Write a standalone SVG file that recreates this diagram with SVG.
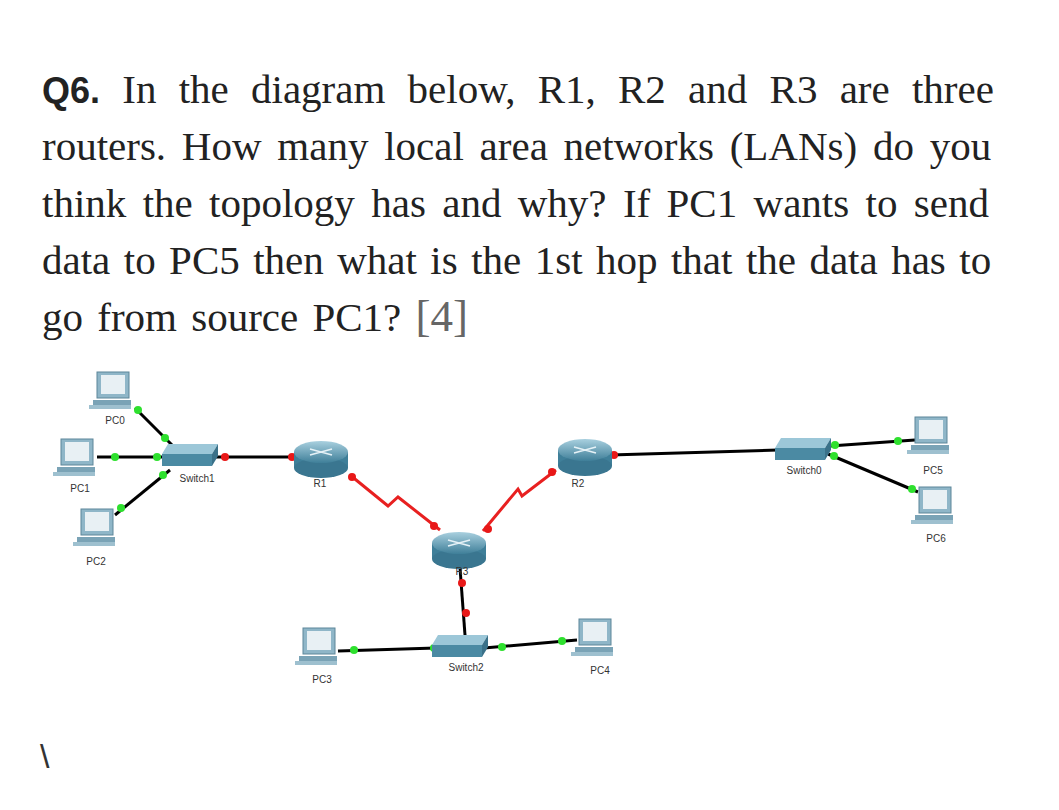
<svg xmlns="http://www.w3.org/2000/svg" width="1059" height="810" viewBox="0 0 1059 810">
<defs>
<linearGradient id="rg" x1="0" y1="0" x2="0" y2="1"><stop offset="0" stop-color="#a9d0df"/><stop offset="1" stop-color="#3f7f99"/></linearGradient>
<g id="pc">
<rect x="2" y="0" width="32" height="26" fill="#8fb6c8" stroke="#5d8699"/>
<rect x="6" y="3" width="24" height="19" fill="#e8f0f4"/>
<rect x="-2" y="28" width="38" height="5" fill="#7aa3b6"/>
<rect x="-6" y="33" width="42" height="4" fill="#9ec0cf"/>
</g>
<g id="rt">
<rect x="-27" y="-6" width="54" height="16" fill="#3f7f99"/>
<ellipse cx="0" cy="10" rx="27" ry="10" fill="#3a7690"/>
<ellipse cx="0" cy="-6" rx="27" ry="11" fill="url(#rg)"/>
<path d="M-11 -9 L11 -3 M11 -9 L-11 -3" stroke="#e6f2f7" stroke-width="1.5"/>
</g>
<g id="sw">
<polygon points="-22,-11 28,-11 22,-1 -28,-1" fill="#9cc7d8"/>
<polygon points="-28,-1 22,-1 22,11 -28,11" fill="#4b8aa3"/>
<polygon points="22,-1 28,-11 28,1 22,11" fill="#3a7189"/>
</g>
</defs>
<style>
.q{font-family:"Liberation Serif",serif;font-size:41px;fill:#222}
.l{font-family:"Liberation Sans",sans-serif;font-size:10px;fill:#333;text-anchor:middle}
.k{stroke:#000;stroke-width:3;fill:none}
.s{stroke:#e82020;stroke-width:3;fill:none}
.g{fill:#2ee02e}.r{fill:#e81818}
</style>
<rect width="1059" height="810" fill="#fff"/>
<g id="question">
<text class="q" x="42" y="103" word-spacing="12"><tspan font-family="Liberation Sans,sans-serif" font-weight="bold" font-size="36">Q6.</tspan> In the diagram below, R1, R2 and R3 are three</text>
<text class="q" x="42" y="160" word-spacing="5.5">routers. How many local area networks (LANs) do you</text>
<text class="q" x="42" y="217" word-spacing="6.1">think the topology has and why? If  PC1 wants to send</text>
<text class="q" x="42" y="274" word-spacing="3.2">data to PC5 then what is the 1st hop that the data has to</text>
<text class="q" x="42" y="331" word-spacing="4">go from source PC1? <tspan fill="#666" font-size="45">[4]</tspan></text>
</g>
<g id="connectors">
<path class="k" d="M135 408 L172 445"/>
<path class="k" d="M97 457 L165 457"/>
<path class="k" d="M115 515 L170 470"/>
<path class="k" d="M215 457 L296 457"/>
<path class="s" d="M350 475 L388 506 L398 497 L440 530"/>
<path class="s" d="M556 470 L522 496 L518 489 L483 531"/>
<path class="k" d="M460 568 L465 635"/>
<path class="k" d="M338 651 L436 648"/>
<path class="k" d="M484 648 L577 640"/>
<path class="k" d="M610 455 L778 450"/>
<path class="k" d="M830 446 L915 440"/>
<path class="k" d="M828 454 L918 492"/>
<g>
<circle class="g" cx="138" cy="410" r="4"/><circle class="g" cx="165" cy="438" r="4"/>
<circle class="g" cx="115" cy="457" r="4"/><circle class="g" cx="157" cy="457" r="4"/>
<circle class="g" cx="121" cy="508" r="4"/><circle class="g" cx="163" cy="475" r="4"/>
<circle class="r" cx="225" cy="457" r="4"/><circle class="r" cx="292" cy="457" r="4"/>
<circle class="r" cx="352" cy="477" r="4"/><circle class="r" cx="434" cy="526" r="4"/>
<circle class="r" cx="552" cy="472" r="4"/><circle class="r" cx="488" cy="529" r="4"/>
<circle class="r" cx="462" cy="583" r="4"/><circle class="r" cx="466" cy="613" r="4"/>
<circle class="g" cx="354" cy="650" r="4"/><circle class="g" cx="434" cy="648" r="4"/>
<circle class="g" cx="502" cy="647" r="4"/><circle class="g" cx="562" cy="641" r="4"/>
<circle class="r" cx="614" cy="455" r="4"/>
<circle class="g" cx="835" cy="445" r="4"/><circle class="g" cx="898" cy="441" r="4"/>
<circle class="g" cx="834" cy="456" r="4"/><circle class="g" cx="912" cy="489" r="4"/>
</g>
</g>
<g id="PC0"><use href="#pc" x="95" y="372"/><text class="l" x="115" y="424">PC0</text></g>
<g id="PC1"><use href="#pc" x="59" y="439"/><text class="l" x="80" y="492">PC1</text></g>
<g id="PC2"><use href="#pc" x="79" y="509"/><text class="l" x="96" y="565">PC2</text></g>
<g id="Switch1"><use href="#sw" x="190" y="455"/><text class="l" x="197" y="482">Switch1</text></g>
<g id="R1"><use href="#rt" x="321" y="458"/><text class="l" x="320" y="487">R1</text></g>
<g id="R2"><use href="#rt" x="585" y="456"/><text class="l" x="578" y="487">R2</text></g>
<g id="R3"><use href="#rt" x="459" y="549"/><text class="l" x="462" y="575">R3</text></g>
<g id="Switch2"><use href="#sw" x="460" y="646"/><text class="l" x="466" y="671">Switch2</text></g>
<g id="PC3"><use href="#pc" x="301" y="628"/><text class="l" x="322" y="683">PC3</text></g>
<g id="PC4"><use href="#pc" x="577" y="619"/><text class="l" x="600" y="674">PC4</text></g>
<g id="Switch0"><use href="#sw" x="803" y="449"/><text class="l" x="804" y="474">Switch0</text></g>
<g id="PC5"><use href="#pc" x="913" y="417"/><text class="l" x="933" y="474">PC5</text></g>
<g id="PC6"><use href="#pc" x="917" y="487"/><text class="l" x="936" y="542">PC6</text></g>
<text x="40" y="768" font-family="Liberation Sans,sans-serif" font-size="34" fill="#333">\</text>
</svg>
